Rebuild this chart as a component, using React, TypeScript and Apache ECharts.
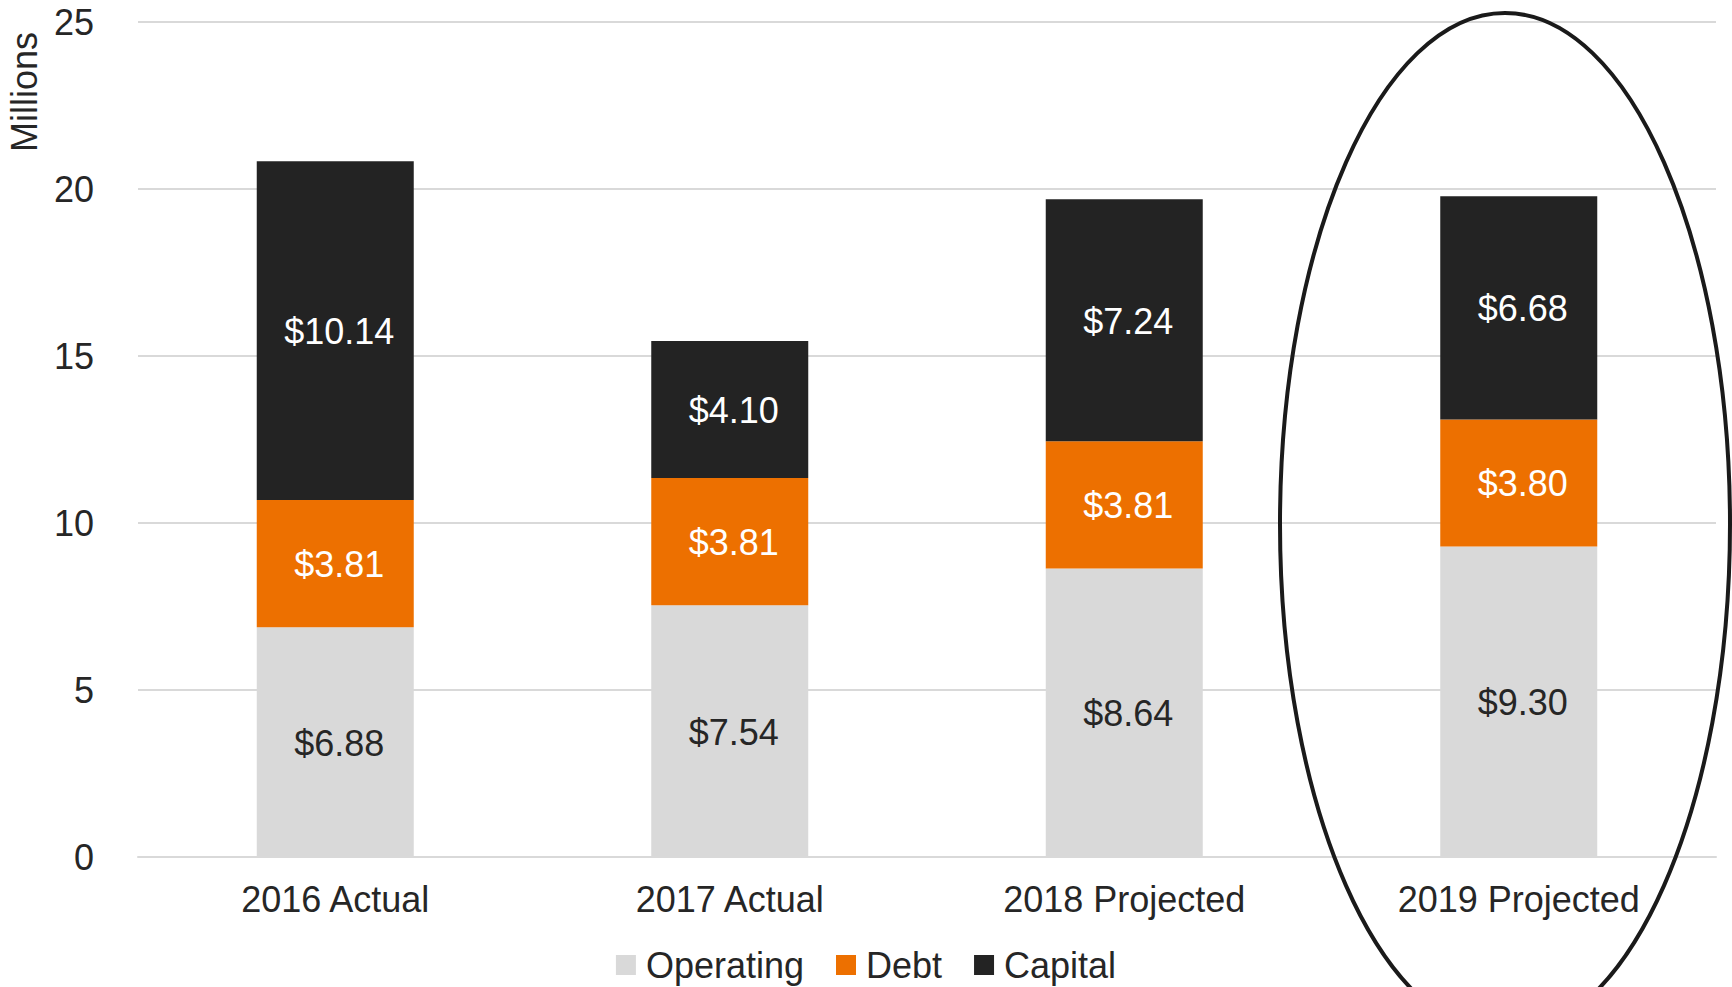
import React, { useEffect, useRef } from "react";
import * as echarts from "echarts";

const categories = ["2016 Actual", "2017 Actual", "2018 Projected", "2019 Projected"];
const operating = [6.88, 7.54, 8.64, 9.3];
const debt = [3.81, 3.81, 3.81, 3.8];
const capital = [10.14, 4.1, 7.24, 6.68];
const seriesNames = ["Operating", "Debt", "Capital"];
const yTicks = { min: 0, max: 25, interval: 5 };

const FONT = "'Liberation Sans', Arial, sans-serif";

export default function App() {
  const ref = useRef<HTMLDivElement>(null);
  useEffect(() => {
    if (!ref.current) return;
    const chart = echarts.init(ref.current, undefined, { renderer: "svg" });
    const label = (color: string) => ({
      show: true,
      position: "inside",
      color,
      fontSize: 36,
      fontFamily: FONT,
      offset: [4, 1],
      formatter: (p: any) => "$" + Number(p.value).toFixed(2),
    });
    const mk = (name: string, data: number[], color: string, lblColor: string) => ({
      name,
      type: "bar",
      stack: "total",
      data,
      barWidth: 157,
      itemStyle: { color },
      label: label(lblColor),
    });
    chart.setOption({
      animation: false,
      textStyle: { fontFamily: FONT },
      grid: { left: 138, right: 16, top: 22, bottom: 130, containLabel: false },
      legend: {
        data: seriesNames,
        top: 942,
        left: "center",
        itemWidth: 20,
        itemHeight: 20,
        itemGap: 32,
        icon: "rect",
        textStyle: { fontSize: 36, color: "#262626", fontFamily: FONT, padding: [0, 0, 0, 5] },
      },
      xAxis: {
        type: "category",
        data: categories,
        axisLine: { show: true, lineStyle: { color: "#d9d9d9", width: 2 } },
        axisTick: { show: false },
        axisLabel: { fontSize: 36, color: "#262626", margin: 24, fontFamily: FONT },
      },
      yAxis: {
        type: "value",
        min: yTicks.min,
        max: yTicks.max,
        interval: yTicks.interval,
        axisLine: { show: false },
        axisTick: { show: false },
        splitLine: { lineStyle: { color: "#d9d9d9", width: 2 } },
        axisLabel: { fontSize: 36, color: "#262626", margin: 44, fontFamily: FONT },
      },
      series: [
        mk(seriesNames[0], operating, "#d9d9d9", "#262626"),
        mk(seriesNames[1], debt, "#ed7000", "#ffffff"),
        mk(seriesNames[2], capital, "#232323", "#ffffff"),
      ],
      graphic: [
        {
          type: "text",
          x: 24,
          y: 92,
          rotation: Math.PI / 2,
          style: {
            text: "Millions",
            fontSize: 36,
            fontFamily: FONT,
            fill: "#262626",
            align: "center",
            verticalAlign: "middle",
          },
        },
        {
          type: "ellipse",
          z: 100,
          shape: { cx: 1505, cy: 524, rx: 225, ry: 511 },
          style: { fill: "none", stroke: "#1a1a1a", lineWidth: 4 },
        },
      ],
    });
    return () => chart.dispose();
  }, []);
  return (
    <div
      ref={ref}
      style={{ position: "absolute", left: 0, top: 0, width: 1732, height: 987 }}
    />
  );
}
